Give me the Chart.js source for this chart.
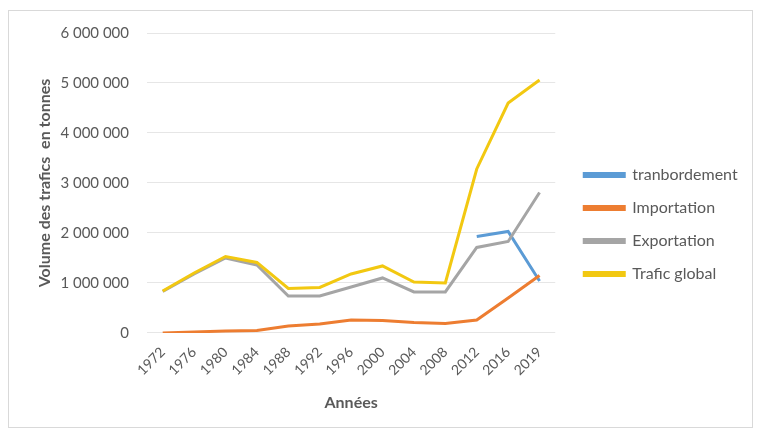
<!DOCTYPE html>
<html>
<head>
<meta charset="utf-8">
<script src="https://cdn.jsdelivr.net/npm/chart.js@4"></script>
<style>
    body { margin: 0; background: #fff; }
    #wrap {
        position: absolute; left: 8px; top: 10px;
        width: 745px; height: 418px;
        border: 1px solid #d9d9d9; box-sizing: border-box;
    }
</style>
</head>
<body>
<div id="wrap"><canvas id="trafic-chart"></canvas></div>
<script>
const years = ['1972', '1976', '1980', '1984', '1988', '1992', '1996', '2000', '2004', '2008', '2012', '2016', '2019'];
const transbordement = [null, null, null, null, null, null, null, null, null, null, 1930000, 2030000, 1040000];
const importation = [0, 20000, 40000, 50000, 140000, 180000, 260000, 250000, 210000, 190000, 260000, 700000, 1150000];
const exportation = [830000, 1180000, 1500000, 1360000, 740000, 740000, 920000, 1100000, 820000, 820000, 1710000, 1830000, 2810000];
const traficGlobal = [840000, 1200000, 1530000, 1410000, 890000, 910000, 1180000, 1340000, 1020000, 1000000, 3280000, 4600000, 5060000];
const yTicks = [0, 1000000, 2000000, 3000000, 4000000, 5000000, 6000000];

function formatNumber(v) {
    return String(v).replace(/\B(?=(\d{3})+(?!\d))/g, ' ');
}

// move the legend a bit to the right so it leaves a gap after the plot
const legendShift = {
    id: 'legendShift',
    afterLayout: function(chart) {
        if (chart.legend) {
            chart.legend.left += 12;
            chart.legend.right += 12;
        }
    }
};

document.addEventListener('DOMContentLoaded', function() {
    const ctx = document.getElementById('trafic-chart').getContext('2d');
    const textColor = '#595959';

    function serie(label, data, color, order) {
        return {
            label: label,
            data: data,
            borderColor: color,
            backgroundColor: color,
            borderWidth: 3,
            pointRadius: 0,
            tension: 0,
            spanGaps: false,
            order: order
        };
    }

    new Chart(ctx, {
        type: 'line',
        data: {
            labels: years,
            datasets: [
                serie('tranbordement', transbordement, '#5B9BD5', 4),
                serie('Importation', importation, '#ED7D31', 3),
                serie('Exportation', exportation, '#A5A5A5', 2),
                serie('Trafic global', traficGlobal, '#F2C811', 1)
            ]
        },
        plugins: [legendShift],
        options: {
            responsive: true,
            maintainAspectRatio: false,
            animation: false,
            layout: {
                padding: { top: 22, right: 22, bottom: 11, left: 22 }
            },
            scales: {
                x: {
                    offset: true,
                    grid: { display: false },
                    border: { display: false },
                    afterFit: function(axis) {
                        axis.paddingLeft = 0;
                        axis.paddingRight = 0;
                    },
                    ticks: {
                        color: textColor,
                        maxRotation: 45,
                        minRotation: 45,
                        font: { family: 'Lato', size: 14 }
                    },
                    title: {
                        display: true,
                        text: 'Années',
                        color: textColor,
                        padding: { top: 11, bottom: 4 },
                        font: { family: 'Lato', size: 16, weight: 'bold' }
                    }
                },
                y: {
                    min: 0,
                    max: 6000000,
                    afterBuildTicks: function(axis) {
                        axis.ticks = yTicks.map(v => ({ value: v }));
                    },
                    afterFit: function(axis) {
                        axis.width = 116;
                        axis.paddingTop = 0;
                    },
                    grid: { color: '#e6e6e6', lineWidth: 1, drawTicks: false },
                    border: { display: false },
                    ticks: {
                        color: textColor,
                        padding: 18,
                        font: { family: 'Lato', size: 15 },
                        callback: function(value) {
                            return formatNumber(value);
                        }
                    },
                    title: {
                        display: true,
                        text: 'Volume des trafics  en tonnes',
                        color: textColor,
                        font: { family: 'Lato', size: 16, weight: 'bold' }
                    }
                }
            },
            plugins: {
                legend: {
                    position: 'right',
                    labels: {
                        boxWidth: 40,
                        boxHeight: 3,
                        padding: 17,
                        color: textColor,
                        font: { family: 'Lato', size: 16 },
                        sort: function(a, b) {
                            return a.datasetIndex - b.datasetIndex;
                        }
                    }
                },
                tooltip: { enabled: false }
            }
        }
    });
});
</script>
</body>
</html>
